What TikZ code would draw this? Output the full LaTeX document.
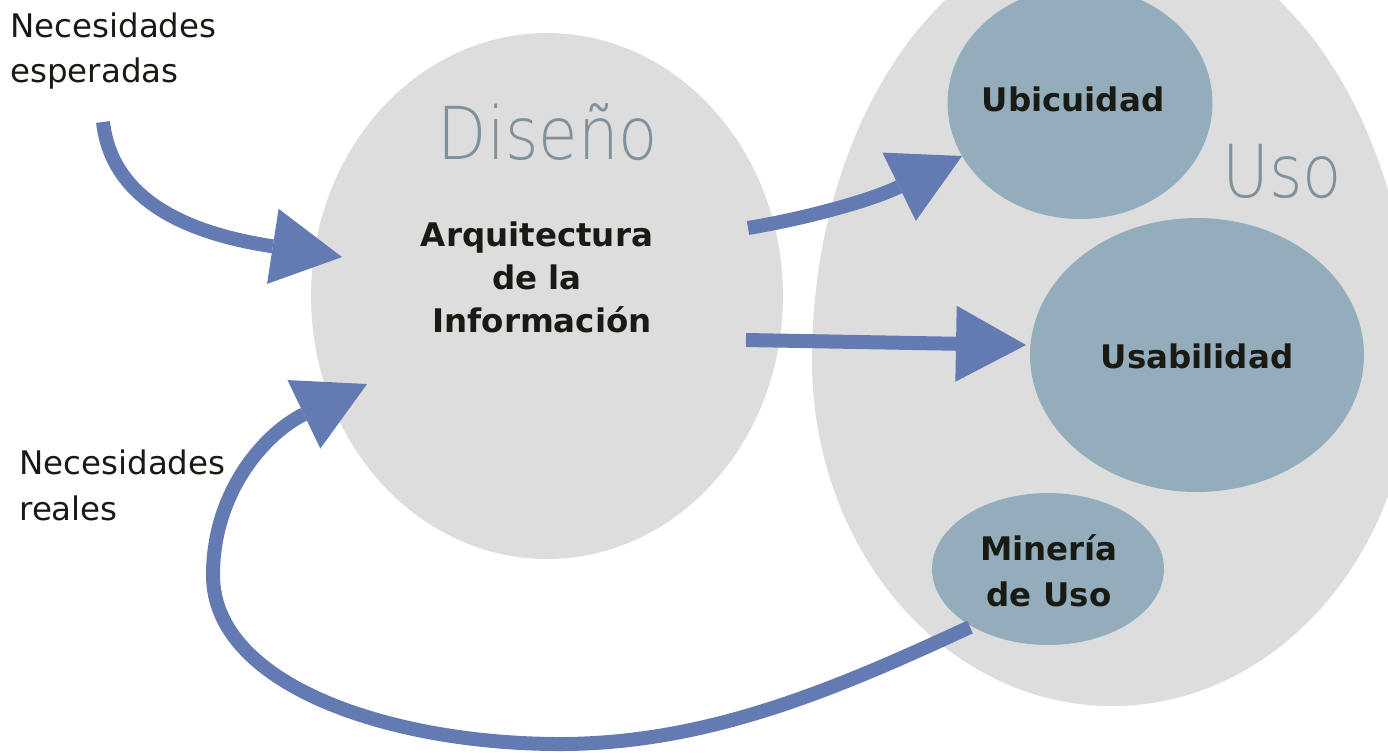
\documentclass[tikz,border=0pt]{standalone}
\usepackage{fontspec}
\setmainfont{DejaVu Sans}
\newfontfamily\thinfont[FakeStretch=0.88]{DejaVu Sans ExtraLight}
\usetikzlibrary{arrows.meta,shapes.geometric}
\definecolor{bgc}{HTML}{DDDDDD}
\definecolor{blob}{HTML}{94ADBD}
\definecolor{arr}{HTML}{637AB3}
\definecolor{ttl}{HTML}{80919B}
\definecolor{ink}{HTML}{1A1A14}
\begin{document}
\begin{tikzpicture}[x=0.02cm,y=-0.02cm,
  zone/.style={ellipse,fill=bgc,inner sep=0pt},
  topic/.style={ellipse,fill=blob,inner sep=0pt},
  flowarrow/.style={draw=arr,line width=0.28cm,-{Triangle[length=1.4cm,width=1.52cm,line width=0pt]}},
  bigword/.style={font=\thinfont\fontsize{41.54pt}{41.54pt}\selectfont,text=ttl,inner sep=0pt,anchor=base},
  tpc/.style={font=\bfseries\fontsize{18.49pt}{24pt}\selectfont,text=ink,inner sep=0pt,anchor=base},
  lbl/.style={font=\fontsize{18.49pt}{24pt}\selectfont,text=ink,inner sep=0pt,anchor=base west}]
\useasboundingbox (0,0) rectangle (1388,752);
\fill[white] (0,0) rectangle (1388,752);
\begin{scope}
\clip (0,0) rectangle (1388,752);
% Diseno zone
\node[zone, minimum width=9.44cm, minimum height=10.52cm] (dis) at (547,296) {};
% Uso zone (egg shape)
\coordinate (uso) at (1112,360);
\fill[bgc] (812,360) arc[start angle=180,end angle=360,x radius=300,y radius=433]
  arc[start angle=0,end angle=180,x radius=300,y radius=346] -- cycle;
% topics
\node[topic, minimum width=5.3cm, minimum height=4.64cm] (ubi) at (1080,103) {};
\node[topic, minimum width=6.68cm, minimum height=5.48cm] (usa) at (1197,355) {};
\node[topic, minimum width=4.64cm, minimum height=3.04cm] (min) at (1048,569) {};
\end{scope}
% titles
\node[bigword] (tdis) at (548,159) {Diseño};
\node[bigword] (tuso) at (1282,197) {Uso};
% bold texts
\node[tpc] (a1) at (537,246) {Arquitectura};
\node[tpc] (a2) at (537,289) {de la};
\node[tpc] (a3) at (542,332) {Información};
\node[tpc] (tub) at (1073,111) {Ubicuidad};
\node[tpc] (tus) at (1197,368) {Usabilidad};
\node[tpc] (tm1) at (1049,560) {Minería};
\node[tpc] (tm2) at (1049,606) {de Uso};
% side labels
\node[lbl] (ne1) at (10,37) {Necesidades};
\node[lbl] (ne2) at (10,82) {esperadas};
\node[lbl] (nr1) at (19,474) {Necesidades};
\node[lbl] (nr2) at (19,520) {reales};
% arrows
\coordinate (s1) at (103,122);
\coordinate (t1) at (342,257);
\draw[flowarrow] (s1) .. controls +(10,90) and +(-130,-20) .. (t1);
\coordinate (s2) at (748,228);
\coordinate (t2) at (962,156);
\draw[flowarrow] (s2) .. controls +(60,-10) and +(-90,44) .. (t2);
\coordinate (s3) at (746,340);
\coordinate (t3) at (1026,345);
\draw[flowarrow] (s3) -- (t3);
\coordinate (s4) at (970,627);
\coordinate (b4) at (560,744);
\coordinate (l4) at (213,575);
\coordinate (t4) at (367,384);
\draw[flowarrow] (s4) .. controls +(-130,60) and +(150,0) .. (b4)
  .. controls +(-170,0) and +(0,110) .. (l4)
  .. controls +(0,-85) and +(-100,48) .. (t4);
\end{tikzpicture}
\end{document}
